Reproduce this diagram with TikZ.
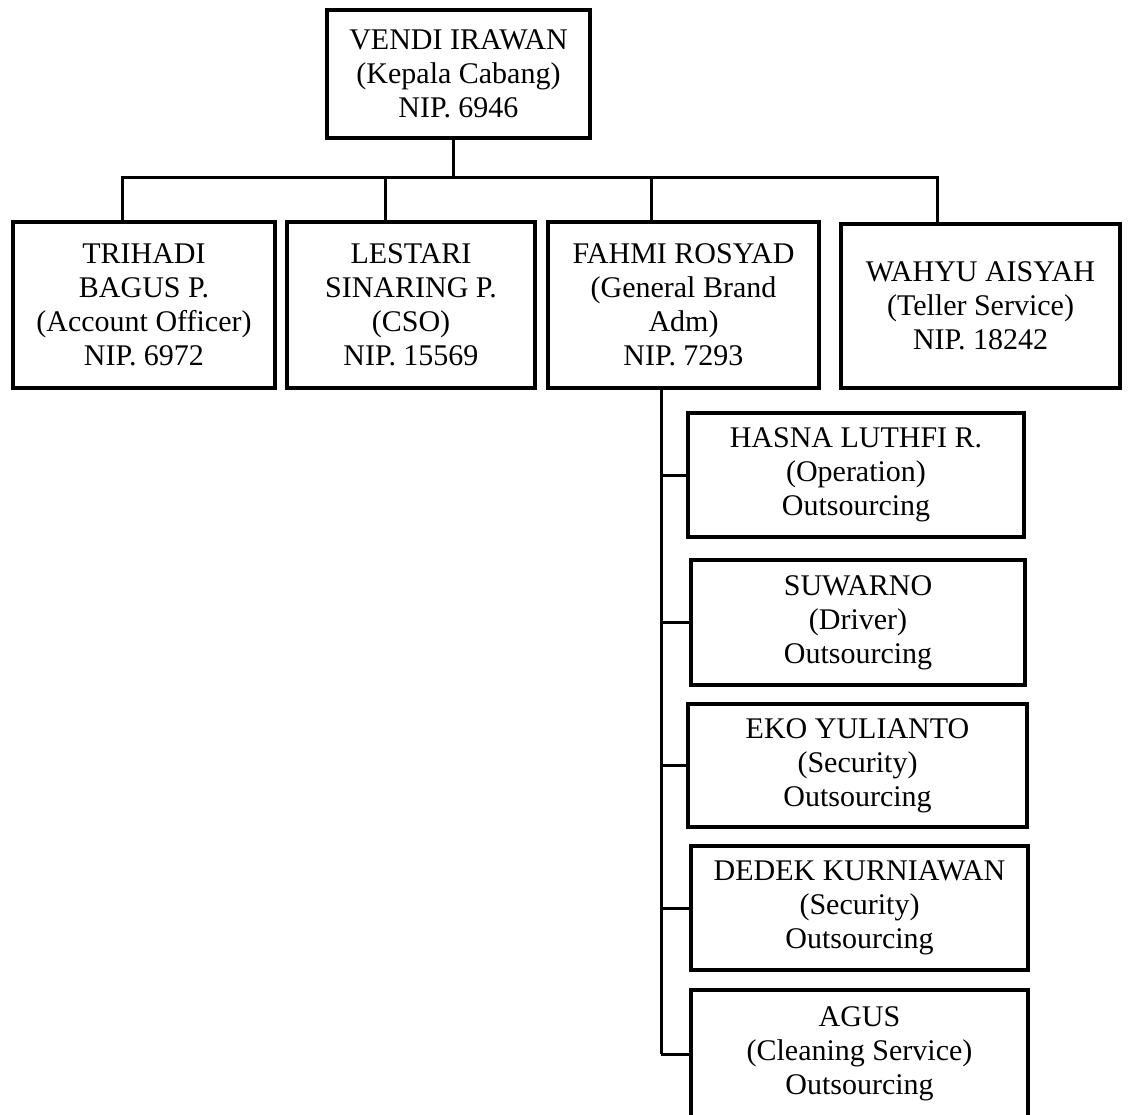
\documentclass[tikz,border=0pt]{standalone}
\usepackage{fontspec}
\setmainfont{Liberation Serif}
\begin{document}
\begin{tikzpicture}[x=1pt,y=-1pt,
  box/.style={draw, line width=3.8pt, inner sep=0pt, align=center,
    font=\fontsize{30}{34}\selectfont},
  conn/.style={draw, line width=3pt}]
\useasboundingbox (0,0) rectangle (1128,1115);
% top
\node[box, minimum width=263pt, minimum height=128pt] (top) at (458.5,74)
  {VENDI IRAWAN\\(Kepala Cabang)\\NIP. 6946};
% level 1
\node[box, minimum width=262pt, minimum height=166pt] (c1) at (144,305)
  {TRIHADI\\BAGUS P.\\(Account Officer)\\NIP. 6972};
\node[box, minimum width=248pt, minimum height=166pt] (c2) at (411,305)
  {LESTARI\\SINARING P.\\(CSO)\\NIP. 15569};
\node[box, minimum width=271pt, minimum height=166pt] (c3) at (683.5,305)
  {FAHMI ROSYAD\\(General Brand\\Adm)\\NIP. 7293};
\node[box, minimum width=279pt, minimum height=164pt] (c4) at (980.5,306)
  {WAHYU AISYAH\\(Teller Service)\\NIP. 18242};
% level 2
\node[box, minimum width=336pt, minimum height=124pt] (s1) at (856,475)
  {HASNA LUTHFI R.\\(Operation)\\Outsourcing};
\node[box, minimum width=334pt, minimum height=125pt] (s2) at (858,622.5)
  {SUWARNO\\(Driver)\\Outsourcing};
\node[box, minimum width=339pt, minimum height=123pt] (s3) at (857.5,765.5)
  {EKO YULIANTO\\(Security)\\Outsourcing};
\node[box, minimum width=337pt, minimum height=124pt] (s4) at (859.5,908)
  {DEDEK KURNIAWAN\\(Security)\\Outsourcing};
\node[box, minimum width=337pt, minimum height=128pt] (s5) at (859.5,1054)
  {AGUS\\(Cleaning Service)\\Outsourcing};
% connectors level 1
\coordinate (bar) at (453,178);
\coordinate (d1) at ([xshift=-22pt]c1.north);
\coordinate (d2) at ([xshift=-26pt]c2.north);
\coordinate (d3) at ([xshift=-32pt]c3.north);
\coordinate (d4) at ([xshift=-43.5pt]c4.north);
\coordinate (t0) at ([xshift=-5.5pt]top.south);
\draw[conn] (t0) -- (t0 |- bar);
\draw[conn] (d1) -- (d1 |- bar) -- (d4 |- bar) -- (d4);
\draw[conn] (d2) -- (d2 |- bar);
\draw[conn] (d3) -- (d3 |- bar);
% connectors level 2
\coordinate (v0) at ([xshift=-22.5pt]c3.south);
\draw[conn] (v0) -- (v0 |- s5.west);
\foreach \s in {s1,s2,s3,s4,s5}
  \draw[conn] (v0 |- \s.west) -- (\s.west);
\end{tikzpicture}
\end{document}
